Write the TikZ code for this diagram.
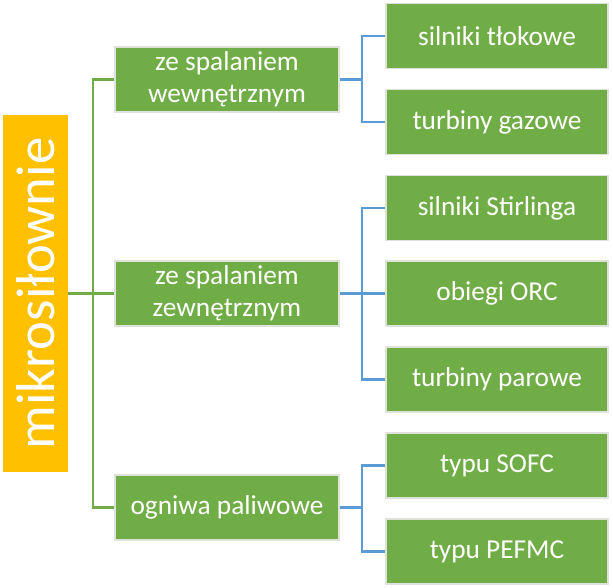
\documentclass[tikz,border=0pt]{standalone}
\usepackage{fontspec}
\setmainfont{Carlito}
\usepackage{xcolor}
\usepackage{tikz}
\usetikzlibrary{positioning, calc}
\definecolor{leaf}{RGB}{112,173,71}
\definecolor{amber}{RGB}{255,192,0}
\definecolor{sky}{RGB}{91,155,213}
\definecolor{rim}{RGB}{222,226,218}

\begin{document}
\begin{tikzpicture}[x=0.75pt, y=-0.75pt,
  box/.style={draw=rim, line width=0.9pt, fill=leaf, text=white, align=center, inner sep=2pt,
    font=\fontsize{20.5}{24}\selectfont},
  midbox/.style={box, minimum width=168pt, minimum height=48.75pt},
  leafbox/.style={box, minimum width=166.5pt, minimum height=48.75pt},
  rootbox/.style={fill=amber, text=white, rotate=90, minimum width=267.75pt, minimum height=48.75pt,
    inner sep=0pt, font=\fontsize{41}{44}\selectfont},
  trunk/.style={leaf, line width=1.6pt},
  twig/.style={sky, line width=1.6pt}]
\useasboundingbox (0,0) rectangle (613,588);
% root
\node[rootbox] (mik) at (35.5,293.5) {mikrosiłownie};
% middle level
\node[midbox] (mid1) at (227,79.5) {ze spalaniem\\wewnętrznym};
\node[midbox] (mid2) at (227,293.5) {ze spalaniem\\zewnętrznym};
\node[midbox] (mid3) at (227,507.5) {ogniwa paliwowe};
% leaves
\node[leafbox] (r1) at (497,36) {silniki tłokowe};
\node[leafbox] (r2) at (497,122) {turbiny gazowe};
\node[leafbox] (r3) at (497,208) {silniki Stirlinga};
\node[leafbox] (r4) at (497,293.5) {obiegi ORC};
\node[leafbox] (r5) at (497,379.5) {turbiny parowe};
\node[leafbox] (r6) at (497,465.5) {typu SOFC};
\node[leafbox] (r7) at (497,551.5) {typu PEFMC};
% green connectors
\coordinate (gv) at (93,293.5);
\draw[trunk] (mik.south) -- (mid2.west);
\draw[trunk] (mid1.west) -| (gv) |- (mid3.west);
% blue connectors
\coordinate (b1) at (362,79.5);
\coordinate (b2) at (362,293.5);
\coordinate (b3) at (362,507.5);
\draw[twig] (mid1.east) -- (b1);
\draw[twig] (r1.west) -| (b1) |- (r2.west);
\draw[twig] (mid2.east) -- (r4.west);
\draw[twig] (r3.west) -| (b2) |- (r5.west);
\draw[twig] (mid3.east) -- (b3);
\draw[twig] (r6.west) -| (b3) |- (r7.west);
\end{tikzpicture}
\end{document}
